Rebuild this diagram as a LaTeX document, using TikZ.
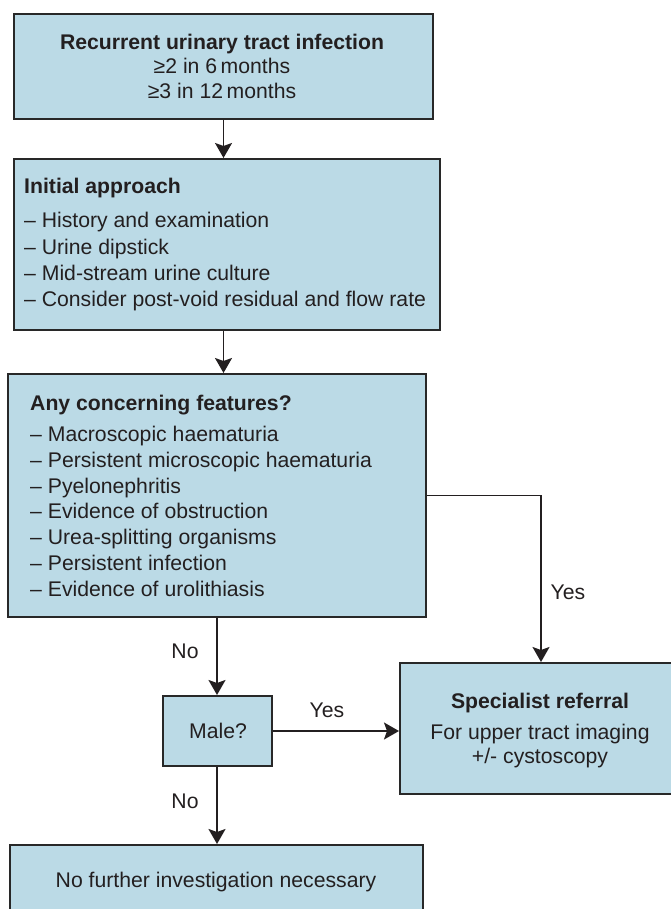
\documentclass[tikz,border=0pt]{standalone}
\usepackage{fontspec}
\setmainfont{Liberation Sans}
\usetikzlibrary{arrows.meta}
\definecolor{boxfill}{RGB}{187,218,230}
\definecolor{ink}{RGB}{35,31,32}
\definecolor{edgecol}{RGB}{40,40,40}
\begin{document}
\begin{tikzpicture}[x=1pt,y=-1pt,
  box/.style={draw=edgecol,line width=2pt,fill=boxfill,rectangle,inner sep=0pt,anchor=north west},
  txt/.style={text=ink,inner sep=0pt,font=\fontsize{21.2}{26}\selectfont},
  btxt/.style={text=ink,inner sep=0pt,font=\fontsize{21.2}{26}\selectfont\bfseries},
  arr/.style={draw=ink,line width=1.8pt,-{Stealth[length=15pt,width=17pt,inset=3pt]}}
]
\useasboundingbox (0,0) rectangle (671,909);
\clip (0,0) rectangle (671,909);

% boxes
\node[box,minimum width=419pt,minimum height=105pt] (b1) at (13,13) {};
\node[box,minimum width=426pt,minimum height=171pt] (b2) at (13,158) {};
\node[box,minimum width=418pt,minimum height=243pt] (b3) at (7,373) {};
\node[box,minimum width=109pt,minimum height=70pt] (male) at (162,695) {};
\node[box,minimum width=282pt,minimum height=131pt] (spec) at (399,662) {};
\node[box,minimum width=413pt,minimum height=70pt] (bot) at (9,844) {};

% box 1 text
\node[btxt,anchor=base] (t1a) at (222,50) {Recurrent urinary tract infection};
\node[txt,anchor=base] (t1b) at (222,74) {≥2 in 6\,months};
\node[txt,anchor=base] (t1c) at (222,99) {≥3 in 12\,months};

% box 2 text
\node[btxt,anchor=base west] (t2a) at (24,194) {Initial approach};
\node[txt,anchor=base west] (t2b) at (24,228) {– History and examination};
\node[txt,anchor=base west] (t2c) at (24,254) {– Urine dipstick};
\node[txt,anchor=base west] (t2d) at (24,280) {– Mid-stream urine culture};
\node[txt,anchor=base west] (t2e) at (24,306) {– Consider post-void residual and flow rate};

% box 3 text
\node[btxt,anchor=base west] (t3a) at (30,410) {Any concerning features?};
\node[txt,anchor=base west] (t3b) at (30,441) {– Macroscopic haematuria};
\node[txt,anchor=base west] (t3c) at (30,467) {– Persistent microscopic haematuria};
\node[txt,anchor=base west] (t3d) at (30,493) {– Pyelonephritis};
\node[txt,anchor=base west] (t3e) at (30,518) {– Evidence of obstruction};
\node[txt,anchor=base west] (t3f) at (30,544) {– Urea-splitting organisms};
\node[txt,anchor=base west] (t3g) at (30,570) {– Persistent infection};
\node[txt,anchor=base west] (t3h) at (30,596) {– Evidence of urolithiasis};

% specialist text
\node[btxt,anchor=base] (t4a) at (540,708) {Specialist referral};
\node[txt,anchor=base] (t4b) at (540,739) {For upper tract imaging};
\node[txt,anchor=base] (t4c) at (540,763) {+/- cystoscopy};

% male and bottom text
\node[txt,anchor=base] (t5) at (218,738) {Male?};
\node[txt,anchor=base] (t6) at (216,887) {No further investigation necessary};

% connectors
\draw[arr] (b1.south) -- (b1.south |- b2.north);
\draw[arr] (b1.south |- b2.south) -- (b1.south |- b3.north);
\draw[arr] (b3.south) -- (b3.south |- male.north);
\draw[arr] (b3.south |- male.south) -- (b3.south |- bot.north);
\draw[arr] (male.east) -- (male.east -| spec.west);
\draw[arr] (b3.east) -| (spec.north);

% labels
\node[txt,anchor=base] (l1) at (185,658) {No};
\node[txt,anchor=base] (l2) at (185,808) {No};
\node[txt,anchor=base] (l3) at (327,717) {Yes};
\node[txt,anchor=base] (l4) at (568,599) {Yes};
\end{tikzpicture}
\end{document}
